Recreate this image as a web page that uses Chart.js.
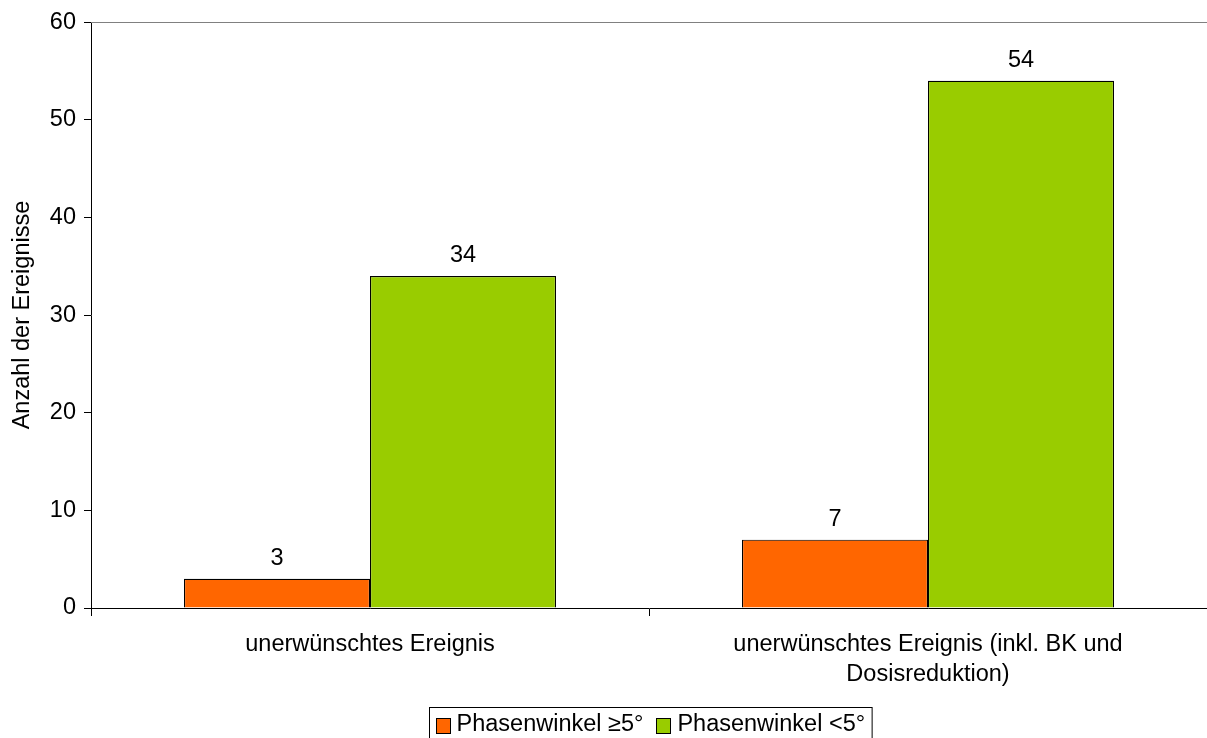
<!DOCTYPE html>
<html>
<head>
<meta charset="utf-8">
<script src="https://cdn.jsdelivr.net/npm/chart.js@4.4.1/dist/chart.umd.min.js"></script>
<style>
  html, body { margin: 0; padding: 0; background: #fff; }
  #wrap { width: 1207px; height: 738px; position: relative; }
</style>
</head>
<body>
<div id="wrap"><canvas id="c" width="1207" height="738"></canvas></div>
<script>
// Event counts per outcome, split by phase angle group
const categories = [
  'unerwünschtes Ereignis',
  ['unerwünschtes Ereignis (inkl. BK und', 'Dosisreduktion)']
];
const seriesNames = ['Phasenwinkel ≥5°', 'Phasenwinkel <5°'];
const highAngle = [3, 7];
const lowAngle = [34, 54];
const yTicks = [0, 10, 20, 30, 40, 50, 60];
const yTitle = 'Anzahl der Ereignisse';

const FONT = 'Liberation Sans, Arial, Helvetica, sans-serif';
const FS = 23.5;
const colors = ['#FF6600', '#99CC00'];

// Value labels above each bar
const valueLabels = {
  id: 'valueLabels',
  afterDatasetsDraw(chart) {
    const ctx = chart.ctx;
    ctx.save();
    ctx.font = FS + 'px ' + FONT;
    ctx.fillStyle = '#000';
    ctx.textAlign = 'center';
    ctx.textBaseline = 'middle';
    chart.data.datasets.forEach((ds, i) => {
      chart.getDatasetMeta(i).data.forEach((bar, j) => {
        ctx.fillText(String(ds.data[j]), bar.x, bar.y - 20);
      });
    });
    ctx.restore();
  }
};

// Top frame line of the plot area and boxed legend under the axis
const frameAndLegend = {
  id: 'frameAndLegend',
  beforeDatasetsDraw(chart) {
    const {ctx, chartArea} = chart;
    ctx.save();
    ctx.strokeStyle = '#808080';
    ctx.lineWidth = 1;
    ctx.beginPath();
    ctx.moveTo(chartArea.left, Math.round(chartArea.top) + 0.5);
    ctx.lineTo(chartArea.right, Math.round(chartArea.top) + 0.5);
    ctx.stroke();
    ctx.restore();
  },
  afterDraw(chart) {
    const ctx = chart.ctx;
    ctx.save();
    ctx.font = FS + 'px ' + FONT;
    ctx.textBaseline = 'middle';
    ctx.textAlign = 'left';
    const sq = 14, gapSq = 7, gapItem = 13, padL = 6, padR = 7;
    const widths = seriesNames.map(n => ctx.measureText(n).width);
    const total = padL + padR + widths.reduce((a, w) => a + sq + gapSq + w, 0) + gapItem * (seriesNames.length - 1);
    const boxX = Math.round(650.5 - total / 2) + 0.5;
    const boxY = 707.5, boxH = 31;
    ctx.strokeStyle = '#000';
    ctx.lineWidth = 1;
    ctx.strokeRect(boxX, boxY, total, boxH);
    let x = boxX + padL;
    const cy = 724.5;
    seriesNames.forEach((n, i) => {
      ctx.fillStyle = colors[i];
      ctx.fillRect(Math.round(x), Math.round(cy - sq / 2), sq, sq + 1);
      ctx.strokeStyle = '#000';
      ctx.strokeRect(Math.round(x) + 0.5, Math.round(cy - sq / 2) + 0.5, sq, sq + 1);
      x += sq + gapSq;
      ctx.fillStyle = '#000';
      ctx.fillText(n, x, cy);
      x += widths[i] + gapItem;
    });
    ctx.restore();
  }
};

new Chart(document.getElementById('c'), {
  type: 'bar',
  data: {
    labels: categories,
    datasets: [
      { label: seriesNames[0], data: highAngle, backgroundColor: colors[0], borderColor: '#000', borderWidth: 1.2 },
      { label: seriesNames[1], data: lowAngle, backgroundColor: colors[1], borderColor: '#000', borderWidth: 1.2 }
    ]
  },
  options: {
    responsive: false,
    animation: false,
    devicePixelRatio: 1,
    layout: { padding: { top: 20, right: 0, left: 0, bottom: 0 } },
    categoryPercentage: 2 / 3,
    barPercentage: 1,
    plugins: {
      legend: { display: false },
      tooltip: { enabled: false }
    },
    scales: {
      x: {
        grid: { offset: true, drawOnChartArea: false, drawTicks: true, tickLength: 8, tickColor: '#000' },
        border: { color: '#000', width: 1 },
        ticks: { color: '#000', font: { family: FONT, size: FS, lineHeight: '30px' }, padding: 14, maxRotation: 0, autoSkip: false },
        afterFit(scale) { scale.height = 130; }
      },
      y: {
        min: 0,
        max: 60,
        afterBuildTicks(scale) { scale.ticks = yTicks.map(v => ({ value: v })); },
        grid: { drawOnChartArea: false, drawTicks: true, tickLength: 7, tickColor: '#000' },
        border: { color: '#000', width: 1 },
        ticks: { color: '#000', font: { family: FONT, size: FS }, padding: 8 },
        title: { display: true, text: yTitle, color: '#000', font: { family: FONT, size: FS }, padding: { top: 8, bottom: 0 } },
        afterFit(scale) { scale.width = 91; }
      }
    }
  },
  plugins: [valueLabels, frameAndLegend]
});
</script>
</body>
</html>
